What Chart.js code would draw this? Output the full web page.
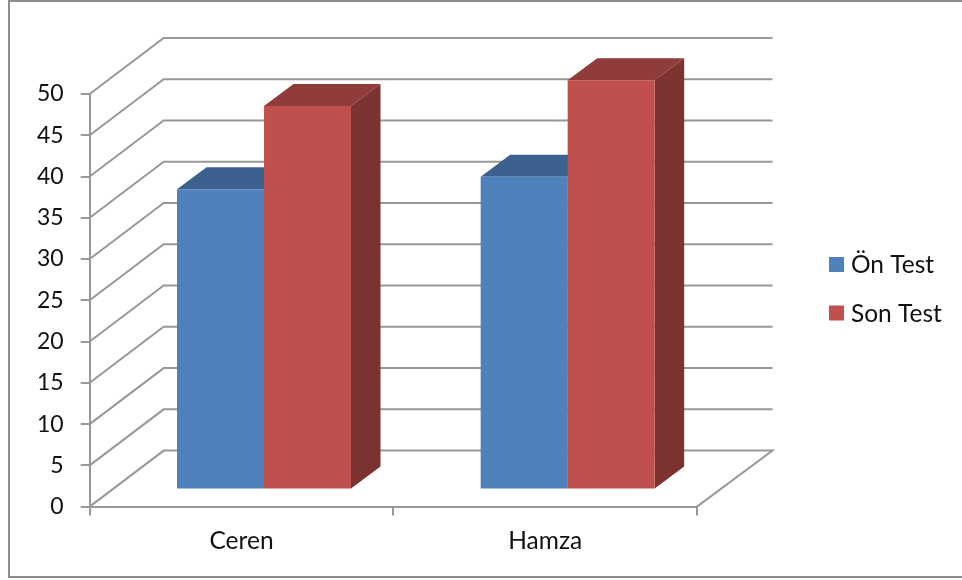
<!DOCTYPE html>
<html>
<head>
<meta charset="utf-8">
<script src="https://cdn.jsdelivr.net/npm/chart.js@4/dist/chart.umd.min.js"></script>
<style>
  html,body{margin:0;padding:0;background:#fff;}
  .wrap{position:relative;width:962px;height:580px;overflow:hidden;}
  .frame{position:absolute;left:8px;top:0;width:960px;height:574px;border:2px solid #8e8e8e;box-sizing:content-box;}
  canvas{position:absolute;left:0;top:0;}
</style>
</head>
<body>
<div class="wrap">
  <div class="frame"></div>
  <canvas id="myChart" width="962" height="580"></canvas>
</div>
<script>
// values
const categories = ["Ceren", "Hamza"];
const onTest = [36.4, 37.9];
const sonTest = [46.5, 49.6];

const gridColor = "#989898";
const textColor = "#111111";
const fontName = "Lato, Carlito, sans-serif";

// colours of each series: front, top, side
const seriesColors = [
    {front: "#4f81bd", top: "#3c618f", side: "#345578"},
    {front: "#c0504d", top: "#8f3c3a", side: "#7b3230"}
];

// how far the walls and the bars go back into the picture
const wallLeftDx = 74, wallRightDx = 75.5, wallDy = 56;
const barShiftX = 22.5, barShiftY = -17;
const barDepthX = 29.5, barDepthY = 22;

const wallsPlugin = {
    id: "walls",
    beforeDatasetsDraw(chart) {
        const {ctx, chartArea, scales} = chart;
        const left = chartArea.left, right = chartArea.right;

        // back walls and floor, behind the bars
        ctx.save();
        ctx.strokeStyle = gridColor;
        ctx.lineWidth = 2;
        scales.y.ticks.forEach((t) => {
            const y = scales.y.getPixelForValue(t.value);
            ctx.beginPath();
            ctx.moveTo(left, y);
            ctx.lineTo(left + wallLeftDx, y - wallDy);
            ctx.lineTo(right + wallRightDx, y - wallDy);
            if (t.value === 0) ctx.lineTo(right, y);
            ctx.stroke();
        });
        ctx.restore();

        // the chart draws its last dataset first, here the red has to come last
        ctx.save();
        ctx.translate(barShiftX, barShiftY);
        chart.data.datasets.forEach((ds, i) => {
            const meta = chart.getDatasetMeta(i);
            const colors = seriesColors[i];
            meta.data.forEach((bar) => {
                const l = bar.x - bar.width / 2, r = bar.x + bar.width / 2;
                ctx.fillStyle = colors.top;
                ctx.beginPath();
                ctx.moveTo(l, bar.y);
                ctx.lineTo(l + barDepthX, bar.y - barDepthY);
                ctx.lineTo(r + barDepthX, bar.y - barDepthY);
                ctx.lineTo(r, bar.y);
                ctx.closePath();
                ctx.fill();
                ctx.fillStyle = colors.side;
                ctx.beginPath();
                ctx.moveTo(r, bar.y);
                ctx.lineTo(r + barDepthX, bar.y - barDepthY);
                ctx.lineTo(r + barDepthX, bar.base - barDepthY);
                ctx.lineTo(r, bar.base);
                ctx.closePath();
                ctx.fill();
            });
            meta.controller.draw();
        });
        ctx.restore();
        return false;
    },
    // legend sits far right of the plot, so it is drawn here
    afterDraw(chart) {
        const {ctx} = chart;
        ctx.save();
        ctx.font = "24.5px " + fontName;
        ctx.textBaseline = "middle";
        chart.data.datasets.forEach((ds, i) => {
            const y = 264.5 + i * 48.5;
            ctx.fillStyle = ds.backgroundColor;
            ctx.fillRect(829, y - 7.5, 15, 15);
            ctx.fillStyle = textColor;
            ctx.fillText(ds.label, 851, y + 1);
        });
        ctx.restore();
    }
};

new Chart(document.getElementById("myChart"), {
    type: "bar",
    data: {
        labels: categories,
        datasets: [
            {label: "Ön Test", data: onTest, backgroundColor: seriesColors[0].front},
            {label: "Son Test", data: sonTest, backgroundColor: seriesColors[1].front}
        ]
    },
    options: {
        responsive: false,
        animation: false,
        layout: {padding: {left: 20, right: 265, top: 94, bottom: 13}},
        categoryPercentage: 0.573,
        barPercentage: 1,
        plugins: {
            legend: {display: false},
            tooltip: {enabled: false}
        },
        scales: {
            x: {
                grid: {drawOnChartArea: false, color: gridColor, tickLength: 9, lineWidth: 2},
                border: {color: gridColor, width: 2},
                ticks: {color: textColor, font: {family: fontName, size: 24.5}, padding: 11}
            },
            y: {
                min: 0,
                max: 50,
                grid: {drawOnChartArea: false, color: gridColor, tickLength: 9, lineWidth: 2},
                border: {color: gridColor, width: 2},
                ticks: {stepSize: 5, color: textColor, font: {family: fontName, size: 23}, padding: 17}
            }
        }
    },
    plugins: [wallsPlugin]
});
</script>
</body>
</html>
